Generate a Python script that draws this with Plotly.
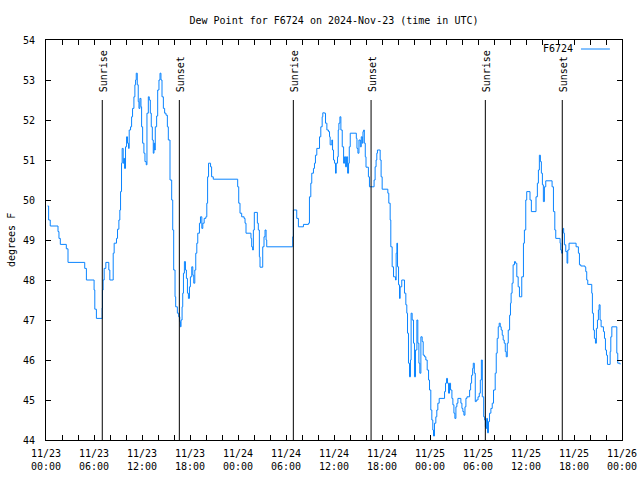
import pandas as pd
import plotly.graph_objects as go

# Hours since 2024-11-23 00:00 UTC and dew point (deg F)
hours = [
    0.2, 0.33, 0.53, 1.5, 1.62, 1.79, 2.54, 2.75, 4.84, 5.05, 6.01, 6.1, 6.3,
    7.02, 7.06, 7.14, 7.27, 7.48, 7.85, 7.98, 8.4, 8.52, 8.81, 8.94, 9.11, 9.23,
    9.32, 9.44, 9.52, 9.65, 9.73, 9.82, 9.94, 10.07, 10.19, 10.32, 10.4, 10.57,
    10.7, 10.82, 10.99, 11.11, 11.2, 11.28, 11.41, 11.53, 11.62, 11.74, 11.87,
    11.95, 12.08, 12.24, 12.37, 12.53, 12.62, 12.79, 12.91, 13.04, 13.16, 13.29,
    13.41, 13.5, 13.58, 13.66, 13.83, 13.96, 14.12, 14.25, 14.37, 14.5, 14.67,
    14.83, 15.0, 15.17, 15.29, 15.5, 15.71, 15.84, 15.96, 16.13, 16.21, 16.42,
    16.59, 16.72, 16.8, 16.88, 17.01, 17.09, 17.18, 17.3, 17.43, 17.55, 17.68,
    17.8, 17.93, 18.05, 18.22, 18.35, 18.47, 18.6, 18.72, 18.85, 18.97, 19.18,
    19.31, 19.48, 19.6, 19.77, 19.98, 20.1, 20.2, 20.32, 20.57, 20.7, 20.91,
    23.96, 24.09, 24.25, 24.46, 24.76, 24.88, 25.0, 25.62, 25.71, 25.83, 25.92,
    26.04, 26.42, 26.54, 26.67, 26.75, 27.09, 27.25, 27.38, 27.51, 27.59,
    30.84, 30.92, 31.34, 31.55, 32.18, 32.81, 32.93, 33.1, 33.22, 33.43, 33.56,
    33.68, 33.85, 34.19, 34.35, 34.52, 34.6, 34.81, 34.94, 35.11, 35.31, 35.44,
    35.52, 35.73, 35.82, 35.94, 36.07, 36.19, 36.28, 36.44, 36.53, 36.61, 36.74,
    36.86, 37.03, 37.2, 37.32, 37.45, 37.57, 37.7, 37.82, 37.91, 38.03, 38.79,
    38.87, 38.99, 39.12, 39.29, 39.41, 39.54, 39.62, 39.71, 39.79, 39.91, 40.0,
    40.3, 40.43, 41.01, 41.14, 41.26, 41.35, 41.43, 41.77, 41.89, 42.02, 42.73,
    42.85, 43.02, 43.1, 43.27, 43.44, 43.69, 43.77, 43.86, 43.94, 44.07, 44.19,
    44.27, 44.47, 44.81, 44.98, 45.1, 45.19, 45.31, 45.44, 45.56, 45.64, 45.77,
    45.94, 46.06, 46.19, 46.36, 46.48, 46.61, 46.73, 46.86, 47.02, 47.15, 47.32,
    47.48, 47.65, 47.82, 47.94, 48.1, 48.23, 48.35, 48.44, 48.56, 48.73, 48.85,
    48.98, 49.15, 49.82, 49.94, 50.07, 50.19, 50.32, 50.44, 50.57, 50.74, 50.86,
    50.99, 51.11, 51.24, 51.36, 51.49, 51.86, 51.99, 52.11, 52.24, 52.37, 52.49,
    52.62, 52.95, 53.08, 53.2, 53.33, 53.41, 53.54, 53.66, 53.79, 54.0, 54.16,
    54.29, 54.42, 54.54, 54.71, 54.83, 54.92, 55.0, 55.08, 55.19, 55.31, 55.44,
    55.61, 55.78, 55.94, 56.15, 56.28, 56.4, 56.53, 56.65, 56.78, 56.9, 57.03,
    57.15, 57.28, 57.41, 57.53, 57.66, 57.78, 57.95, 58.06, 58.14, 58.26, 58.39,
    58.56, 58.68, 58.85, 59.02, 59.18, 59.47, 59.68, 59.8, 59.97, 60.09, 60.5,
    60.67, 61.25, 61.42, 61.55, 61.67, 61.8, 61.92, 62.05, 62.17, 62.3, 62.47,
    63.26, 63.43, 63.6, 63.72, 64.26, 64.34, 64.46, 64.55, 64.63, 64.71, 64.8,
    64.97, 65.13, 65.22, 65.38, 66.26, 66.55, 66.68, 66.85, 67.38, 67.47, 67.59,
    67.72, 68.22, 68.3, 68.43, 68.55, 68.68, 68.8, 68.93, 69.05, 69.14, 69.26,
    69.39, 69.68, 69.81, 69.93, 70.06, 70.18, 70.52, 70.6, 70.73, 71.35, 71.47,
    71.76,
]
dewpoint = [
    49.85, 49.5, 49.35, 49.21, 49.04, 48.89, 48.78, 48.44, 48.29, 48.0, 47.75, 47.27, 47.04,
    47.3, 47.75, 48.0, 48.29, 48.44, 48.25, 48.0, 48.67, 48.92, 49.04, 49.27, 49.5, 49.75,
    50.21, 50.92, 51.29, 50.92, 51.04, 50.79, 51.33, 51.58, 51.42, 51.29, 51.75, 51.83,
    52.08, 52.29, 52.58, 52.88, 53.0, 53.17, 52.88, 52.46, 52.29, 52.54, 52.33,
    51.83, 51.42, 51.17, 50.96, 50.88, 52.17, 52.58, 52.5, 52.17, 51.83, 51.5,
    51.17, 51.42, 51.25, 51.83, 52.1, 52.75, 53.0, 53.17, 53.0, 52.58, 52.29,
    52.17, 52.12, 51.83, 51.5, 50.5, 50.0, 49.25, 48.25, 47.58, 47.33, 47.17,
    47.08, 46.96, 46.83, 47.0, 47.33, 47.67, 48.17, 48.46, 48.25, 48.04, 47.67,
    47.54, 47.83, 48.08, 48.33, 48.12, 47.92, 48.25, 48.67, 48.92, 49.17, 49.42,
    49.58, 49.29, 49.42, 49.54, 49.58, 49.92, 50.58, 50.92, 50.83, 50.58, 50.52,
    50.33, 49.92, 49.67, 49.58, 49.54, 49.42, 49.17, 49.04, 48.83, 48.75, 49.25,
    49.69, 49.42, 49.25, 48.58, 48.32, 48.83, 49.08, 49.25, 49.0, 48.83,
    49.08, 49.75, 49.54, 49.33, 49.39, 49.42, 50.08, 50.42, 50.67, 50.79, 50.92,
    51.12, 51.29, 51.58, 51.83, 52.08, 52.18, 52.17, 51.92, 51.75, 51.71, 51.58,
    51.38, 51.5, 51.25, 51.0, 50.92, 50.67, 50.92, 51.08, 51.75, 51.92, 52.08,
    51.75, 51.33, 50.92, 51.08, 50.83, 51.08, 50.67, 50.92, 51.33, 51.67, 51.54,
    51.29, 51.17, 51.5, 51.33, 51.58, 51.42, 51.71, 51.75, 51.42, 51.08, 50.82,
    50.58, 50.33, 50.5, 50.83, 51.0, 51.17, 51.25, 51.0, 50.58, 50.27, 50.17,
    49.92, 49.5, 48.83, 48.33, 48.08, 48.0, 48.67, 48.92, 48.33, 47.88, 47.54,
    47.83, 48.0, 47.67, 47.38, 47.17, 46.67, 45.92, 45.58, 46.0, 47.17, 47.0,
    46.42, 45.58, 46.25, 47.0, 46.42, 45.92, 45.67, 46.58, 46.46, 46.12, 46.08,
    46.0, 45.75, 45.5, 45.25, 44.75, 44.5, 44.25, 44.1, 44.42, 44.58, 44.75,
    44.92, 45.04, 45.21, 45.42, 45.54, 45.42, 45.17, 45.42, 45.25, 45.04, 44.88,
    44.67, 44.54, 44.83, 44.92, 45.04, 44.92, 44.79, 44.71, 44.62, 44.83, 45.04,
    45.08, 45.25, 45.42, 45.62, 45.79, 45.92, 45.67, 44.96, 45.0, 45.08, 45.17,
    45.5, 46.0, 45.08, 44.58, 44.5, 44.33, 44.29, 44.54, 44.18, 44.46, 44.67,
    44.79, 44.92, 45.25, 45.67, 46.17, 46.54, 46.83, 46.92, 46.83, 46.75, 46.62,
    46.5, 46.42, 46.21, 46.08, 46.42, 46.75, 47.12, 47.42, 47.67, 47.92, 48.38,
    48.46, 48.42, 48.08, 47.83, 47.58, 48.08, 48.92, 49.25, 50.0, 50.21, 50.0,
    49.71, 50.08, 50.42, 50.75, 51.12, 50.96, 50.67, 50.38, 49.96, 50.33, 50.48,
    50.33, 49.71, 49.25, 49.04, 48.92, 48.75, 48.67, 49.25, 49.29, 49.17, 48.88,
    48.71, 48.42, 48.75, 48.92, 48.83, 48.67, 48.38, 48.35, 48.32, 48.21, 48.0,
    47.89, 47.67, 47.17, 46.75, 46.54, 46.42, 46.79, 47.0, 47.25, 47.38, 47.0,
    46.83, 46.71, 46.54, 46.25, 46.12, 45.89, 46.21, 46.58, 46.83, 46.17, 45.92,
    45.89,
]

event_labels = ["Sunrise", "Sunset", "Sunrise", "Sunset", "Sunrise", "Sunset"]
event_times = ["2024-11-23 07:02", "2024-11-23 16:40", "2024-11-24 06:55",
               "2024-11-24 16:38", "2024-11-25 06:55", "2024-11-25 16:32"]

station = "F6724"
title_text = "Dew Point for F6724 on 2024-Nov-23 (time in UTC)"
y_title = "degrees F"

start = pd.Timestamp("2024-11-23 00:00")
times = start + pd.to_timedelta(hours, unit="h")

FONT = "DejaVu Sans Mono"
BLUE = "#0a84ff"

fig = go.Figure()
fig.add_trace(go.Scatter(x=times, y=dewpoint, mode="lines", name=station,
                         line=dict(color=BLUE, width=1, shape="hv"),
                         showlegend=False))

shapes = []
annotations = []
for lab, t in zip(event_labels, event_times):
    shapes.append(dict(type="line", xref="x", yref="y", x0=t, x1=t, y0=44, y1=52.5,
                       line=dict(color="black", width=1)))
    annotations.append(dict(x=t, y=52.5, xref="x", yref="y", text=lab, showarrow=False,
                            textangle=-90, xanchor="center", yanchor="bottom",
                            yshift=6, xshift=1, font=dict(family=FONT, size=10, color="black")))

# legend (gnuplot style: text then line sample)
annotations.append(dict(x=0.9184, y=0.9775, xref="paper", yref="paper", text=station,
                        showarrow=False, xanchor="right", yanchor="middle",
                        font=dict(family=FONT, size=10, color="black")))
shapes.append(dict(type="line", xref="paper", yref="paper", x0=0.9288, x1=0.979,
                   y0=0.9775, y1=0.9775, line=dict(color=BLUE, width=1)))

# y-axis title as rotated text at the left edge
annotations.append(dict(x=(11 - 46) / 576, y=0.5, xref="paper", yref="paper", text=y_title,
                        showarrow=False, textangle=-90, xanchor="center", yanchor="middle",
                        font=dict(family=FONT, size=10, color="black")))

fig.update_layout(
    width=640, height=480,
    margin=dict(l=46, r=18, t=40, b=40, autoexpand=False),
    paper_bgcolor="white", plot_bgcolor="white",
    font=dict(family=FONT, size=10, color="black"),
    showlegend=False,
    title=dict(text=title_text, x=0.5, xref="paper", xanchor="center",
               y=1 - 20 / 480, yref="container", yanchor="middle",
               font=dict(family=FONT, size=10, color="black")),
    shapes=shapes,
    annotations=annotations,
)

fig.update_xaxes(
    type="date", automargin=False,
    range=["2024-11-23 00:00", "2024-11-26 00:00"],
    tick0="2024-11-23 00:00", dtick=6 * 3600 * 1000,
    tickformat="%m/%d<br>%H:%M",
    ticks="inside", ticklen=5, tickwidth=1, tickcolor="black",
    minor=dict(dtick=2 * 3600 * 1000, ticks="inside", ticklen=5, tickwidth=1,
               tickcolor="black", showgrid=False),
    showline=True, linecolor="black", linewidth=1, mirror="ticks",
    showgrid=False, zeroline=False,
    ticklabelstandoff=4,
    tickfont=dict(family=FONT, size=10, color="black"),
)
fig.update_yaxes(
    range=[44, 54], dtick=1, tick0=44, automargin=False,
    ticks="inside", ticklen=5, tickwidth=1, tickcolor="black",
    showline=True, linecolor="black", linewidth=1, mirror="ticks",
    showgrid=False, zeroline=False,
    ticklabelstandoff=8,
    tickfont=dict(family=FONT, size=10, color="black"),
)

fig.write_html("out.html", config={"displayModeBar": False},
               post_script="document.body.style.margin='0px';")
